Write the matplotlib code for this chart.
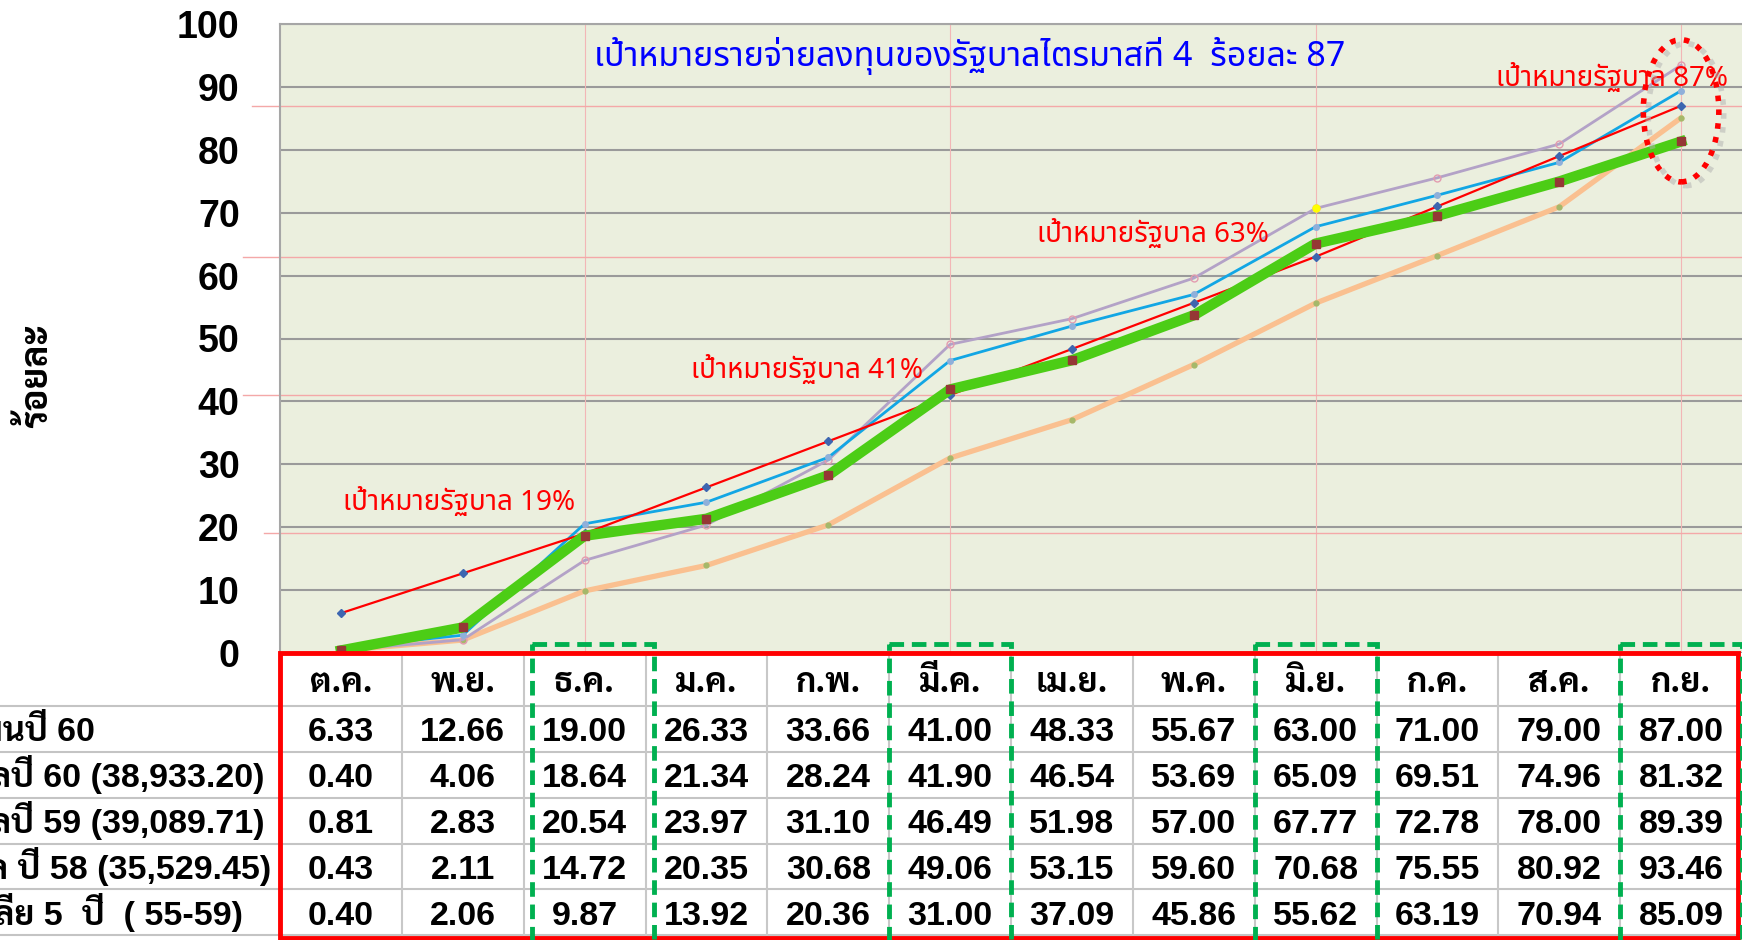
import matplotlib
matplotlib.use("Agg")
import matplotlib.pyplot as plt
from matplotlib.patches import Rectangle, Ellipse

months = ["ต.ค.", "พ.ย.", "ธ.ค.", "ม.ค.", "ก.พ.", "มี.ค.", "เม.ย.", "พ.ค.", "มิ.ย.", "ก.ค.", "ส.ค.", "ก.ย."]
target60 = [6.33, 12.66, 19.00, 26.33, 33.66, 41.00, 48.33, 55.67, 63.00, 71.00, 79.00, 87.00]
result60 = [0.40, 4.06, 18.64, 21.34, 28.24, 41.90, 46.54, 53.69, 65.09, 69.51, 74.96, 81.32]
result59 = [0.81, 2.83, 20.54, 23.97, 31.10, 46.49, 51.98, 57.00, 67.77, 72.78, 78.00, 89.39]
result58 = [0.43, 2.11, 14.72, 20.35, 30.68, 49.06, 53.15, 59.60, 70.68, 75.55, 80.92, 93.46]
avg5 = [0.40, 2.06, 9.87, 13.92, 20.36, 31.00, 37.09, 45.86, 55.62, 63.19, 70.94, 85.09]

row_labels = ["เป้าหมายตามแผนปี 60",
              "ผลเบิกจ่ายรัฐบาลปี 60 (38,933.20)",
              "ผลเบิกจ่ายรัฐบาลปี 59 (39,089.71)",
              "ผลเบิกจ่ายรัฐบาล ปี 58 (35,529.45)",
              "ค่าเฉลีย 5  ปี  ( 55-59)"]
rows = [target60, result60, result59, result58, avg5]

quarter_idx = [2, 5, 8, 11]
quarter_targets = [19, 41, 63, 87]
title = "เป้าหมายรายจ่ายลงทุนของรัฐบาลไตรมาสที่ 4  ร้อยละ 87"

W, H = 1742, 940
fig = plt.figure(figsize=(W / 100, H / 100), dpi=100)

ax = fig.add_axes([280 / W, (H - 653) / H, 1 - 280 / W, (653 - 24) / H])
ax.set_facecolor("#EBEFDE")
x = list(range(len(months)))

ax.plot(x, avg5, color="#FAC090", lw=3.8, marker="o", ms=3.5, mfc="#A5B86A", mec="#A5B86A", zorder=3)
ax.plot(x, result58, color="#B3A2C7", lw=2, marker="o", ms=5, mfc="none", mec="#E39CB0", zorder=4)
ax.plot([x[8]], [result58[8]], ls="none", marker="o", ms=5, mfc="#FFFF00", mec="#FFFF00", zorder=4)
ax.plot(x, result59, color="#12A6E4", lw=2, marker="o", ms=4, mfc="#8FB0DA", mec="#8FB0DA", zorder=5)
ax.plot(x, target60, color="#FF0000", lw=1.6, marker="D", ms=4.5, mfc="#3D66B0", mec="#3D66B0", zorder=6)
ax.plot(x, result60, color="#4CCD16", lw=7.5, marker="s", ms=6, mfc="#953735", mec="#953735", zorder=7)

ax.set_xlim(-0.5, 11.5)
ax.set_ylim(0, 100)
ax.set_yticks(range(0, 101, 10))
ax.set_xticks([])
ax.tick_params(axis="y", length=0, pad=29)
for t in ax.get_yticklabels():
    t.set_family("Liberation Sans")
    t.set_fontweight("bold")
    t.set_fontsize(27)
ax.yaxis.grid(True, color="#9A9A9A", lw=1.5)
ax.set_axisbelow(True)
for s in ["right", "bottom"]:
    ax.spines[s].set_visible(False)
for s in ["left", "top"]:
    ax.spines[s].set_color("#A6A6A6")
    ax.spines[s].set_linewidth(1.5)

# government quarter targets
for xi in quarter_idx:
    ax.axvline(xi, color="#F2B6B6", lw=0.8, zorder=1)
line_start = [-0.63, -0.80, -0.80, -0.73]
for v, x0 in zip(quarter_targets, line_start):
    ax.plot([x0, 11.5], [v, v], color="#F4A8A8", lw=1, clip_on=False, zorder=1)

thai = ["Noto Sans Thai", "DejaVu Sans"]
ann_pos = [(0.02, 24.0), (2.87, 45.0), (5.71, 66.6), (9.48, 91.4)]
for v, (ax_x, ax_y) in zip(quarter_targets, ann_pos):
    ax.text(ax_x, ax_y, f"เป้าหมายรัฐบาล {v}%", family=thai, color="#FF0000",
            fontsize=20, ha="left", va="center", zorder=8)
ax.text(5.16, 94.9, title, family=thai, color="#0000FF", fontsize=24.5, fontweight="medium",
        ha="center", va="center", zorder=8)

# dotted ellipse around September
ax.add_patch(Ellipse((11.04, 85.6), 0.62, 22.6, fill=False, ec="#B0B0B0", lw=4,
                     ls=(0, (1, 1.5)), alpha=0.5, clip_on=False, zorder=8))
ax.add_patch(Ellipse((11.0, 86.2), 0.62, 22.6, fill=False, ec="#FF0000", lw=4,
                     ls=(0, (1, 1.5)), clip_on=False, zorder=9))

fig.text(38 / W, 1 - 376 / H, "ร้อยละ", rotation=90, family=["Sarabun", "DejaVu Sans"],
         fontweight="bold", fontsize=26.5, ha="center", va="center")

# data table below the chart
tb = fig.add_axes([280 / W, 0, 1 - 280 / W, (H - 653) / H])
tb.set_xlim(-0.5, 11.5)
tb.set_ylim(6.25, 0)
tb.axis("off")

left_edge = -0.5 - 280 / 122
for y in [1.15, 2.15, 3.15, 4.15, 5.15, 6.15]:
    tb.plot([left_edge, 11.5], [y, y], color="#C4C4C4", lw=1.5, clip_on=False, zorder=1)
for xi in x[:-1]:
    tb.plot([xi + 0.5, xi + 0.5], [0, 6.2], color="#C8C8C8", lw=1.5, zorder=1)

tab_font = ["Liberation Sans", "Sarabun", "DejaVu Sans"]
for xi, m in zip(x, months):
    tb.text(xi, 0.85, m, family=["Sarabun", "DejaVu Sans"], fontweight="bold", fontsize=24.5,
            ha="center", va="baseline", zorder=3)

label_end = [-2.02, -0.63, -0.63, -0.57, -0.80]
for r, (lab, vals) in enumerate(zip(row_labels, rows)):
    yb = 1.65 + r + 0.27
    tb.text(label_end[r], yb, lab, family=tab_font, fontweight="bold", fontsize=24.5,
            ha="right", va="baseline", clip_on=False, zorder=3)
    for xi, v in zip(x, vals):
        tb.text(xi, yb, f"{v:.2f}", family=tab_font, fontweight="bold", fontsize=24.5,
                ha="center", va="baseline", zorder=3)

tb.add_patch(Rectangle((-0.5, 0), 11.97, 6.2, fill=False, ec="#FF0000", lw=3.5,
                       clip_on=False, zorder=4))
for xi in quarter_idx:
    x0 = xi - 0.5 + (0.07 if xi == 2 else 0)
    tb.add_patch(Rectangle((x0, -0.2), 1, 6.6, fill=False, ec="#00B050", lw=3.5,
                           ls=(0, (3, 1.6)), clip_on=False, zorder=5))

fig.savefig("out.png", dpi=100)
